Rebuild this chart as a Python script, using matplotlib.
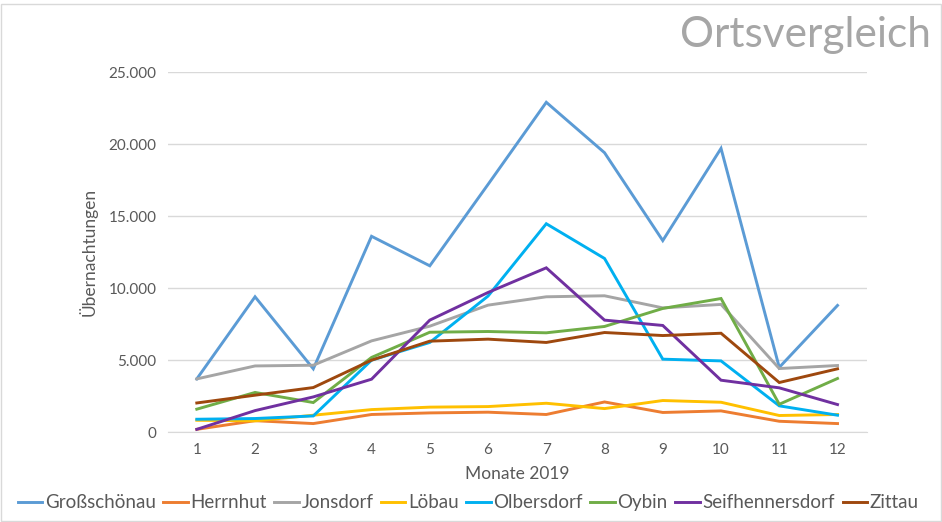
import matplotlib.pyplot as plt
from matplotlib.ticker import FuncFormatter
from matplotlib.patches import Rectangle

plt.rcParams['font.family'] = ['Lato', 'DejaVu Sans']

monate = list(range(1, 13))

grossschoenau = [3700, 9400, 4400, 13600, 11550, 17200, 22900, 19400, 13300, 19700, 4500, 8800]
herrnhut = [200, 800, 600, 1230, 1340, 1390, 1230, 2100, 1370, 1480, 760, 600]
jonsdorf = [3700, 4600, 4650, 6340, 7360, 8820, 9400, 9470, 8630, 8870, 4420, 4630]
loebau = [830, 790, 1180, 1570, 1740, 1780, 2010, 1640, 2200, 2080, 1160, 1230]
olbersdorf = [900, 950, 1130, 5000, 6230, 9450, 14470, 12060, 5070, 4950, 1830, 1180]
oybin = [1600, 2760, 2060, 5190, 6940, 6990, 6900, 7340, 8590, 9280, 1940, 3730]
seifhennersdorf = [200, 1500, 2450, 3680, 7780, 9700, 11410, 7780, 7410, 3610, 3080, 1920]
zittau = [2030, 2570, 3100, 5000, 6320, 6460, 6230, 6920, 6710, 6870, 3450, 4400]

orte = ["Großschönau", "Herrnhut", "Jonsdorf", "Löbau", "Olbersdorf",
        "Oybin", "Seifhennersdorf", "Zittau"]
werte = [grossschoenau, herrnhut, jonsdorf, loebau, olbersdorf,
         oybin, seifhennersdorf, zittau]
farben = ["#5B9BD5", "#ED7D31", "#A5A5A5", "#FFC000", "#00B0F0",
          "#70AD47", "#7030A0", "#9E480E"]

fig = plt.figure(figsize=(9.42, 5.22), dpi=100)
ax = fig.add_axes([0.178, 0.172, 0.742, 0.69])

for name, w, c in zip(orte, werte, farben):
    ax.plot(monate, w, color=c, lw=2.1, label=name, solid_joinstyle='miter')

ax.set_xlim(0.5, 12.5)
ax.set_ylim(0, 25000)
ax.set_xticks(monate)
ax.set_yticks(range(0, 25001, 5000))
ax.yaxis.set_major_formatter(FuncFormatter(lambda v, p: f"{int(v):,}".replace(",", ".")))
ax.grid(axis='y', color='#D9D9D9', lw=1)
ax.set_axisbelow(True)
for s in ['top', 'right', 'left']:
    ax.spines[s].set_visible(False)
ax.spines['bottom'].set_color('#D9D9D9')
ax.tick_params(length=0, colors='#595959', labelsize=11, pad=8)

ax.set_xlabel("Monate 2019", fontsize=12.5, color='#595959', labelpad=6)
ax.set_ylabel("Übernachtungen", fontsize=12.5, color='#595959', labelpad=8)

fig.text(0.988, 0.91, "Ortsvergleich", ha='right', va='baseline',
         fontsize=30.5, color='#A6A6A6')

fig.legend(loc='lower center', bbox_to_anchor=(0.497, -0.012), ncol=8, frameon=False,
           fontsize=13.5, labelcolor='#595959', handlelength=1.3, handletextpad=0.15,
           columnspacing=0.4)

fig.add_artist(Rectangle((0.001, 0.001), 0.998, 0.992, transform=fig.transFigure,
                         fill=False, ec='#D9D9D9', lw=1))

fig.savefig("out.png", dpi=100)
